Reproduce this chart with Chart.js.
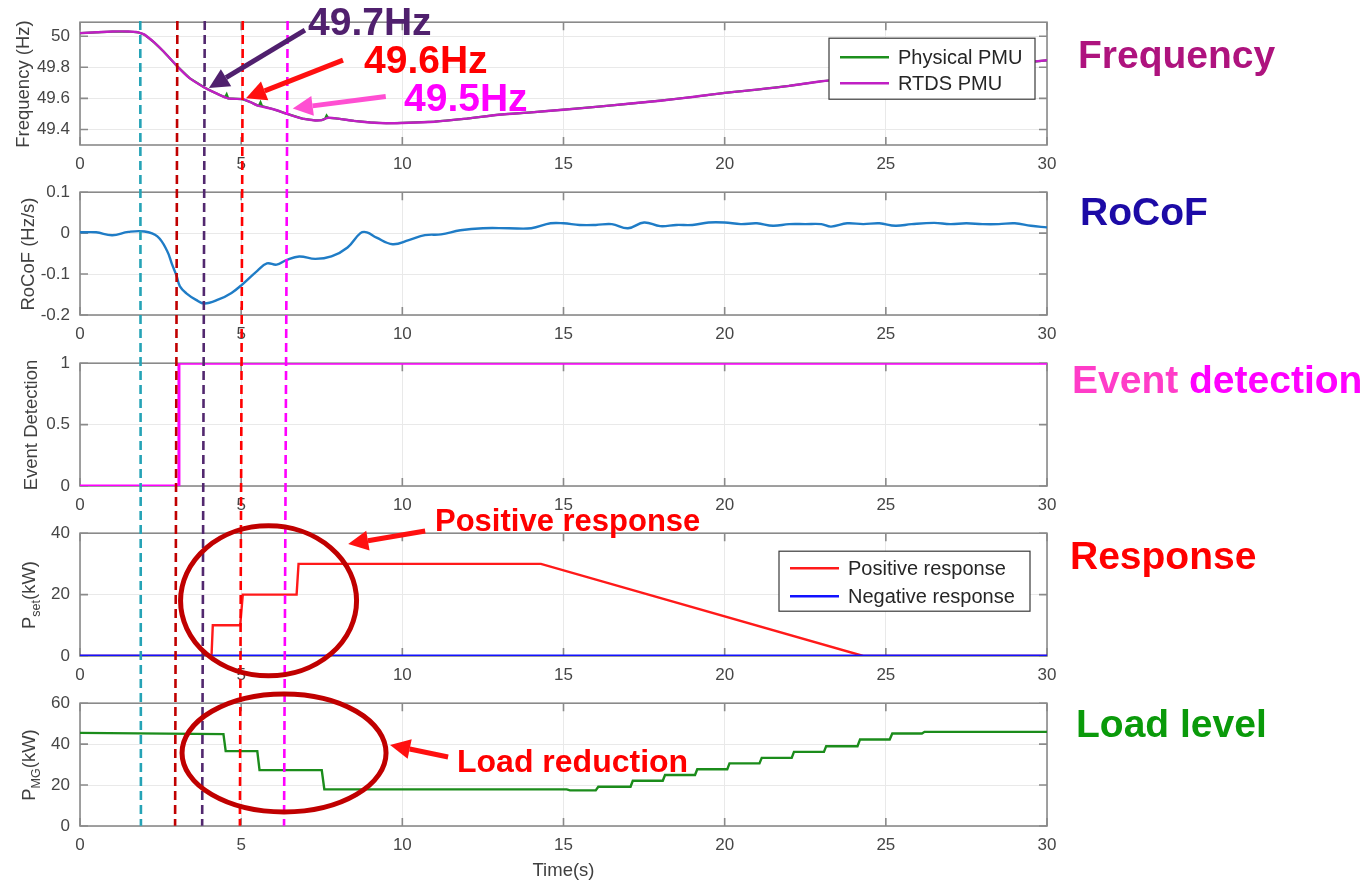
<!DOCTYPE html>
<html>
<head>
<meta charset="utf-8">
<script src="https://cdn.jsdelivr.net/npm/chart.js@4.4.1/dist/chart.umd.min.js"></script>
<style>
  html, body { margin: 0; padding: 0; background: #fff; }
  #page { position: relative; width: 1372px; height: 881px; overflow: hidden;
          font-family: "Liberation Sans", Arial, sans-serif; }
  .plot { position: absolute; left: 0; }
  #overlay { position: absolute; left: 0; top: 0; pointer-events: none; }
  .lbl { position: absolute; font-weight: bold; white-space: nowrap; line-height: 1; }
  .ytitle { position: absolute; font-size: 18.5px; color: #404040; white-space: nowrap;
            line-height: 1; transform: translate(-50%, -50%) rotate(-90deg); }
  .ytitle .sb { font-size: 12.5px; position: relative; top: 5px; }
  #xtitle { position: absolute; font-size: 18.5px; color: #404040; line-height: 1;
            transform: translate(-50%, -50%); white-space: nowrap; }
</style>
</head>
<body>
<div id="page">
  <canvas class="plot" id="p0"></canvas>
  <canvas class="plot" id="p1"></canvas>
  <canvas class="plot" id="p2"></canvas>
  <canvas class="plot" id="p3"></canvas>
  <canvas class="plot" id="p4"></canvas>
  <canvas id="overlay" width="1372" height="881"></canvas>
</div>
<script>
// ══════════════════════════════════════════════════════
//  Frequency event → PMU detection → response → load
// ══════════════════════════════════════════════════════

// ── Data (time in s) ──────────────────────────────────
const X_TICKS = [0, 5, 10, 15, 20, 25, 30];

const FREQ_T    = [0,0.5,1,1.5,1.8,2.0,2.3,2.6,3.0,3.4,3.86,4.2,4.6,5.04,5.3,5.5,6.0,6.43,6.9,7.3,
                   7.5,7.7,8.0,8.5,9.0,9.5,10,11,12,13,14,15,16,17,18,19,20,21,22,23,24,25,26,27,28,29,30];
const FREQ_RTDS = [50.02,50.025,50.03,50.03,50.025,50.01,49.96,49.9,49.81,49.73,49.67,49.635,49.6,49.595,
                   49.575,49.555,49.53,49.5,49.47,49.458,49.46,49.475,49.47,49.455,49.445,49.44,49.442,49.45,
                   49.47,49.495,49.51,49.527,49.545,49.565,49.585,49.609,49.635,49.656,49.68,49.71,49.73,
                   49.75,49.77,49.79,49.805,49.825,49.845];
const PMU_T     = [0,0.5,1,1.5,1.8,2.0,2.3,2.6,3.0,3.4,3.86,4.2,4.5,4.55,4.6,5.04,5.3,5.5,5.55,5.6,
                   5.65,6.0,6.43,6.9,7.3,7.5,7.6,7.65,7.7,8.0,8.5,9.0,9.5,10,11,12,13,14,15,16,
                   17,18,19,20,21,22,23,24,25,26,27,28,29,30];
const FREQ_PMU  = [50.02,50.025,50.03,50.03,50.025,50.01,49.96,49.9,49.81,49.73,49.67,49.635,49.607,49.627,
                   49.6,49.595,49.575,49.555,49.553,49.575,49.55,49.53,49.5,49.47,49.458,49.46,49.468,49.49,
                   49.475,49.47,49.455,49.445,49.44,49.442,49.45,49.47,49.495,49.51,49.527,49.545,49.565,
                   49.585,49.609,49.635,49.656,49.68,49.71,49.73,49.75,49.77,49.79,49.805,49.825,49.845];
const FREQ_TICKS = [49.4, 49.6, 49.8, 50];

const ROCOF_T = [0,0.5,1,1.5,2,2.4,2.7,2.85,3.0,3.1,3.3,3.6,3.86,4.3,4.7,5.04,5.5,5.8,6.1,6.4,
                 6.8,7.3,7.8,8.3,8.7,8.9,9.2,9.7,10.2,10.7,11.2,11.8,12.5,13.3,14.0,14.6,15,15.5,16,16.5,
                 17,17.5,18,18.5,19,19.5,20,20.5,21,21.5,22,22.5,23,23.3,23.8,24.3,24.8,25.3,25.8,26.5,
                 27,27.5,28,28.5,29,29.5,30];
const ROCOF   = [0.002,0.002,-0.005,0.003,0.004,-0.008,-0.043,-0.075,-0.105,-0.13,
                 -0.147,-0.163,-0.172,-0.162,-0.146,-0.125,-0.092,-0.074,-0.077,-0.066,
                 -0.057,-0.063,-0.057,-0.035,0.0,0.002,-0.011,-0.027,-0.017,-0.005,
                 -0.003,0.007,0.012,0.012,0.012,0.024,0.024,0.02,0.02,0.022,
                 0.012,0.026,0.017,0.02,0.02,0.026,0.026,0.022,0.024,0.018,
                 0.022,0.022,0.022,0.016,0.024,0.022,0.024,0.018,0.022,0.025,
                 0.022,0.024,0.022,0.022,0.024,0.018,0.014];
const ROCOF_TICKS = [-0.2, -0.1, 0, 0.1];

const EVT_T = [0, 3.05, 3.07, 30];
const EVT   = [0, 0, 1, 1];
const EVT_TICKS = [0, 0.5, 1];

const POS_T = [0, 4.08, 4.12, 4.97, 5.05, 6.72, 6.78, 14.3, 24.3, 30];
const POS   = [0, 0, 10, 10, 20, 20, 30, 30, 0, 0];
const NEG_T = [0, 30];
const NEG   = [0, 0];
const PSET_TICKS = [0, 20, 40];

const LOAD_T = [0,4.45,4.52,5.5,5.57,7.5,7.58,15.1,15.2,16.0,16.08,17.08,17.15,18.08,18.15,19.08,
                19.15,20.08,20.15,21.08,21.15,22.08,22.15,23.08,23.15,24.12,24.2,25.12,25.2,26.12,26.2,30];
const LOAD   = [45.5,44.9,36.6,36.6,27.3,27.3,17.9,17.9,17.4,17.4,19.2,19.2,22.1,22.1,24.9,24.9,
                27.7,27.7,30.6,30.6,33.3,33.3,36.2,36.2,39.0,39.0,42.3,42.3,45.2,45.2,46.0,46.0];
const PMG_TICKS = [0, 20, 40, 60];

// event markers (dashed verticals), slightly slanted as in the figure
const V_T_TOP  = [1.87, 3.02, 3.87, 5.05, 6.44];
const V_T_BOT  = [1.89, 2.95, 3.79, 4.96, 6.33];
const V_COLORS = ['#25a3b6', '#c00000', '#52286f', '#ff0000', '#ff00ff'];

// ── Layout ────────────────────────────────────────────
const W = 1372, AREA_L = 80, AREA_R = 1047, AREA_H = 123, XAX_H = 30;
const PLOT_TOP = [22, 192, 363, 533, 703];
const OFF = [];               // canvas top offsets, filled after layout
const GRID = '#e9e9e9', AXIS = '#8a8a8a', TICK_C = '#464646';
const FONT = '"Liberation Sans", Arial, sans-serif';

Chart.defaults.font.family = FONT;

const pts = (t, v) => t.map((x, i) => ({ x, y: v[i] }));
const fmt = v => String(Math.round(v * 100) / 100);

// ── Box + inward ticks like MATLAB ────────────────────
const framePlugin = {
    id: 'frame',
    beforeDatasetsDraw(chart) {
        const { ctx, chartArea: a, scales } = chart;
        ctx.save();
        ctx.strokeStyle = AXIS;
        ctx.lineWidth = 1.6;
        ctx.strokeRect(a.left, a.top, a.right - a.left, a.bottom - a.top);
        ctx.beginPath();
        scales.x.ticks.forEach(t => {
            const x = scales.x.getPixelForValue(t.value);
            ctx.moveTo(x, a.bottom); ctx.lineTo(x, a.bottom - 8);
            ctx.moveTo(x, a.top);    ctx.lineTo(x, a.top + 8);
        });
        scales.y.ticks.forEach(t => {
            const y = scales.y.getPixelForValue(t.value);
            ctx.moveTo(a.left, y);  ctx.lineTo(a.left + 8, y);
            ctx.moveTo(a.right, y); ctx.lineTo(a.right - 8, y);
        });
        ctx.stroke();
        ctx.restore();
    }
};

// ── Legend box inside axes ────────────────────────────
const boxLegend = {
    id: 'boxLegend',
    afterDraw(chart, args, opts) {
        if (!opts || !opts.box) return;
        const { ctx, chartArea: a } = chart;
        const [dx, dy, w, h] = opts.box;      // relative to plot area top-left
        const x = a.left + dx, y = a.top + dy;
        ctx.save();
        ctx.fillStyle = '#fff';
        ctx.fillRect(x, y, w, h);
        ctx.strokeStyle = '#3a3a3a';
        ctx.lineWidth = 1.2;
        ctx.strokeRect(x, y, w, h);
        ctx.font = `20px ${FONT}`;
        ctx.textBaseline = 'middle';
        ctx.fillStyle = '#262626';
        chart.data.datasets.forEach((ds, i) => {
            const ry = y + opts.rows[i];
            ctx.strokeStyle = ds.borderColor;
            ctx.lineWidth = 2.6;
            ctx.beginPath(); ctx.moveTo(x + 11, ry); ctx.lineTo(x + 60, ry); ctx.stroke();
            ctx.fillText(ds.label, x + 69, ry + 1);
        });
        ctx.restore();
    }
};

function makePlot(i, datasets, yMin, yMax, yTicks, legend) {
    const cv = document.getElementById('p' + i);
    cv.width = W;
    cv.height = 20 + AREA_H + XAX_H;
    const chart = new Chart(cv, {
        type: 'line',
        data: { datasets },
        options: {
            responsive: false, animation: false, devicePixelRatio: 1,
            layout: { padding: { top: 0, right: W - AREA_R, left: 0, bottom: 0 } },
            elements: { point: { radius: 0 } },
            plugins: {
                legend: { display: false },
                tooltip: { enabled: false },
                boxLegend: legend || {}
            },
            scales: {
                x: {
                    type: 'linear', min: 0, max: 30,
                    afterBuildTicks: s => { s.ticks = X_TICKS.map(v => ({ value: v })); },
                    afterFit: s => { s.height = XAX_H; },
                    grid: { color: GRID, drawTicks: false },
                    border: { display: false },
                    ticks: { padding: 9, color: TICK_C, font: { size: 17 }, maxRotation: 0,
                             autoSkip: false, callback: v => fmt(v) }
                },
                y: {
                    type: 'linear', min: yMin, max: yMax,
                    afterBuildTicks: s => { s.ticks = yTicks.map(v => ({ value: v })); },
                    afterFit: s => { s.width = AREA_L; },
                    grid: { color: GRID, drawTicks: false },
                    border: { display: false },
                    ticks: { padding: 10, color: TICK_C, font: { size: 17 }, callback: v => fmt(v) }
                }
            }
        },
        plugins: [framePlugin, boxLegend]
    });
    // make the plot area exactly AREA_H tall and place it at PLOT_TOP[i]
    const h = chart.chartArea.bottom - chart.chartArea.top;
    if (Math.abs(h - AREA_H) > 0.5) chart.resize(W, cv.height + (AREA_H - h));
    OFF[i] = PLOT_TOP[i] - chart.chartArea.top;
    cv.style.top = OFF[i] + 'px';
    return chart;
}

const line = (label, t, v, color, width, tension, order) => ({
    label, data: pts(t, v), borderColor: color, backgroundColor: color,
    borderWidth: width, tension: tension || 0, fill: false, order: order || 0
});

const charts = [
    makePlot(0, [
        line('Physical PMU', PMU_T, FREQ_PMU, '#1d8f1d', 2.2, 0, 1),
        line('RTDS PMU', FREQ_T, FREQ_RTDS, '#c01fc4', 2.4, 0.3, 0)
    ], 49.3, 50.09, FREQ_TICKS, { box: [749, 16, 206, 61], rows: [19, 45] }),
    makePlot(1, [line('RoCoF', ROCOF_T, ROCOF, '#1f7cc6', 2.4, 0.4)], -0.2, 0.1, ROCOF_TICKS),
    makePlot(2, [line('Event Detection', EVT_T, EVT, '#ff00ff', 3)], 0, 1, EVT_TICKS),
    makePlot(3, [
        line('Positive response', POS_T, POS, '#ff1a1a', 2.4, 0, 1),
        line('Negative response', NEG_T, NEG, '#1212ff', 3, 0, 0)
    ], 0, 40, PSET_TICKS, { box: [699, 18, 251, 60], rows: [17, 45] }),
    makePlot(4, [line('Load', LOAD_T, LOAD, '#1b8c1b', 2.4)], 0, 60, PMG_TICKS)
];

// ── Annotations (dashed markers, circles, arrows) ─────
const ELLIPSES = [
    { plot: 3, t: 5.85, v: 17.9, rx: 88, ry: 75 },
    { plot: 4, t: 6.33, v: 35.6, rx: 102, ry: 59 }
];
const ARROWS = [
    { plot: 0, t: 4.0,  v: 49.665, dx: 96, dy: -58, color: '#50206e' },
    { plot: 0, t: 5.15, v: 49.6,   dx: 97, dy: -38, color: '#ff1010' },
    { plot: 0, t: 6.6,  v: 49.534, dx: 93, dy: -12, color: '#ff4fd2' },
    { plot: 3, t: 8.32, v: 36.4,   dx: 77, dy: -13, color: '#ff1010' },
    { plot: 4, t: 9.62, v: 39.5,   dx: 58, dy: 12,  color: '#ff1010' }
];

function drawOverlay() {
    const ctx = document.getElementById('overlay').getContext('2d');
    const px = (i, t) => charts[i].scales.x.getPixelForValue(t);
    const py = (i, v) => charts[i].scales.y.getPixelForValue(v) + OFF[i];
    const yTop = charts[0].chartArea.top + OFF[0] - 1;
    const yBot = charts[4].chartArea.bottom + OFF[4];

    ctx.save();
    ctx.lineWidth = 2.6;
    ctx.setLineDash([9, 5]);
    V_T_TOP.forEach((t, k) => {
        ctx.strokeStyle = V_COLORS[k];
        ctx.beginPath();
        ctx.moveTo(px(0, t), yTop);
        ctx.lineTo(px(4, V_T_BOT[k]), yBot);
        ctx.stroke();
    });
    ctx.restore();

    ctx.save();
    ctx.strokeStyle = '#c00000';
    ctx.lineWidth = 5;
    ELLIPSES.forEach(e => {
        ctx.beginPath();
        ctx.ellipse(px(e.plot, e.t), py(e.plot, e.v), e.rx, e.ry, 0, 0, Math.PI * 2);
        ctx.stroke();
    });
    ctx.restore();

    ARROWS.forEach(a => {
        const x1 = px(a.plot, a.t), y1 = py(a.plot, a.v);
        const x0 = x1 + a.dx, y0 = y1 + a.dy;
        const ang = Math.atan2(y1 - y0, x1 - x0);
        const hl = 20, hw = 10;
        const bx = x1 - hl * Math.cos(ang), by = y1 - hl * Math.sin(ang);
        ctx.save();
        ctx.strokeStyle = a.color; ctx.fillStyle = a.color;
        ctx.lineWidth = 5; ctx.lineCap = 'butt';
        ctx.beginPath(); ctx.moveTo(x0, y0); ctx.lineTo(bx, by); ctx.stroke();
        ctx.beginPath();
        ctx.moveTo(x1, y1);
        ctx.lineTo(bx + hw * Math.sin(ang), by - hw * Math.cos(ang));
        ctx.lineTo(bx - hw * Math.sin(ang), by + hw * Math.cos(ang));
        ctx.closePath(); ctx.fill();
        ctx.restore();
    });
}
drawOverlay();

// ── Text: axis titles, panel names, callouts ──────────
const page = document.getElementById('page');
const Y_TITLES = [
    { html: 'Frequency (Hz)', x: 23 },
    { html: 'RoCoF (Hz/s)', x: 28 },
    { html: 'Event Detection', x: 31 },
    { html: 'P<span class="sb">set</span>(kW)', x: 29 },
    { html: 'P<span class="sb">MG</span>(kW)', x: 29 }
];
Y_TITLES.forEach((t, i) => {
    const d = document.createElement('div');
    d.className = 'ytitle';
    d.innerHTML = t.html;
    d.style.left = t.x + 'px';
    d.style.top = (PLOT_TOP[i] + AREA_H / 2) + 'px';
    page.appendChild(d);
});
const xt = document.createElement('div');
xt.id = 'xtitle';
xt.textContent = 'Time(s)';
xt.style.left = ((AREA_L + AREA_R) / 2) + 'px';
xt.style.top = '870px';
page.appendChild(xt);

const LABELS = [
    { html: 'Frequency', x: 1078, base: 68, size: 39, color: '#ae137e' },
    { html: 'RoCoF', x: 1080, base: 225, size: 39, color: '#1c0aa6' },
    { html: '<span style="color:#ff3cc8">Event </span>detection', x: 1072, base: 393, size: 39, color: '#ff00ff' },
    { html: 'Response', x: 1070, base: 569, size: 39, color: '#ff0000' },
    { html: 'Load level', x: 1076, base: 737, size: 39, color: '#0a9a0a' },
    { html: '49.7Hz', x: 308, base: 35, size: 39, color: '#50206e' },
    { html: '49.6Hz', x: 364, base: 73, size: 39, color: '#ff0000' },
    { html: '49.5Hz', x: 404, base: 111, size: 39, color: '#ff00ff' },
    { html: 'Positive response', x: 435, base: 531, size: 31, color: '#ff0000' },
    { html: 'Load reduction', x: 457, base: 772, size: 32, color: '#ff0000' }
];
LABELS.forEach(l => {
    const d = document.createElement('div');
    d.className = 'lbl';
    d.innerHTML = l.html;
    d.style.left = l.x + 'px';
    d.style.top = (l.base - 0.8465 * l.size) + 'px';
    d.style.fontSize = l.size + 'px';
    d.style.color = l.color;
    page.appendChild(d);
});
</script>
</body>
</html>
